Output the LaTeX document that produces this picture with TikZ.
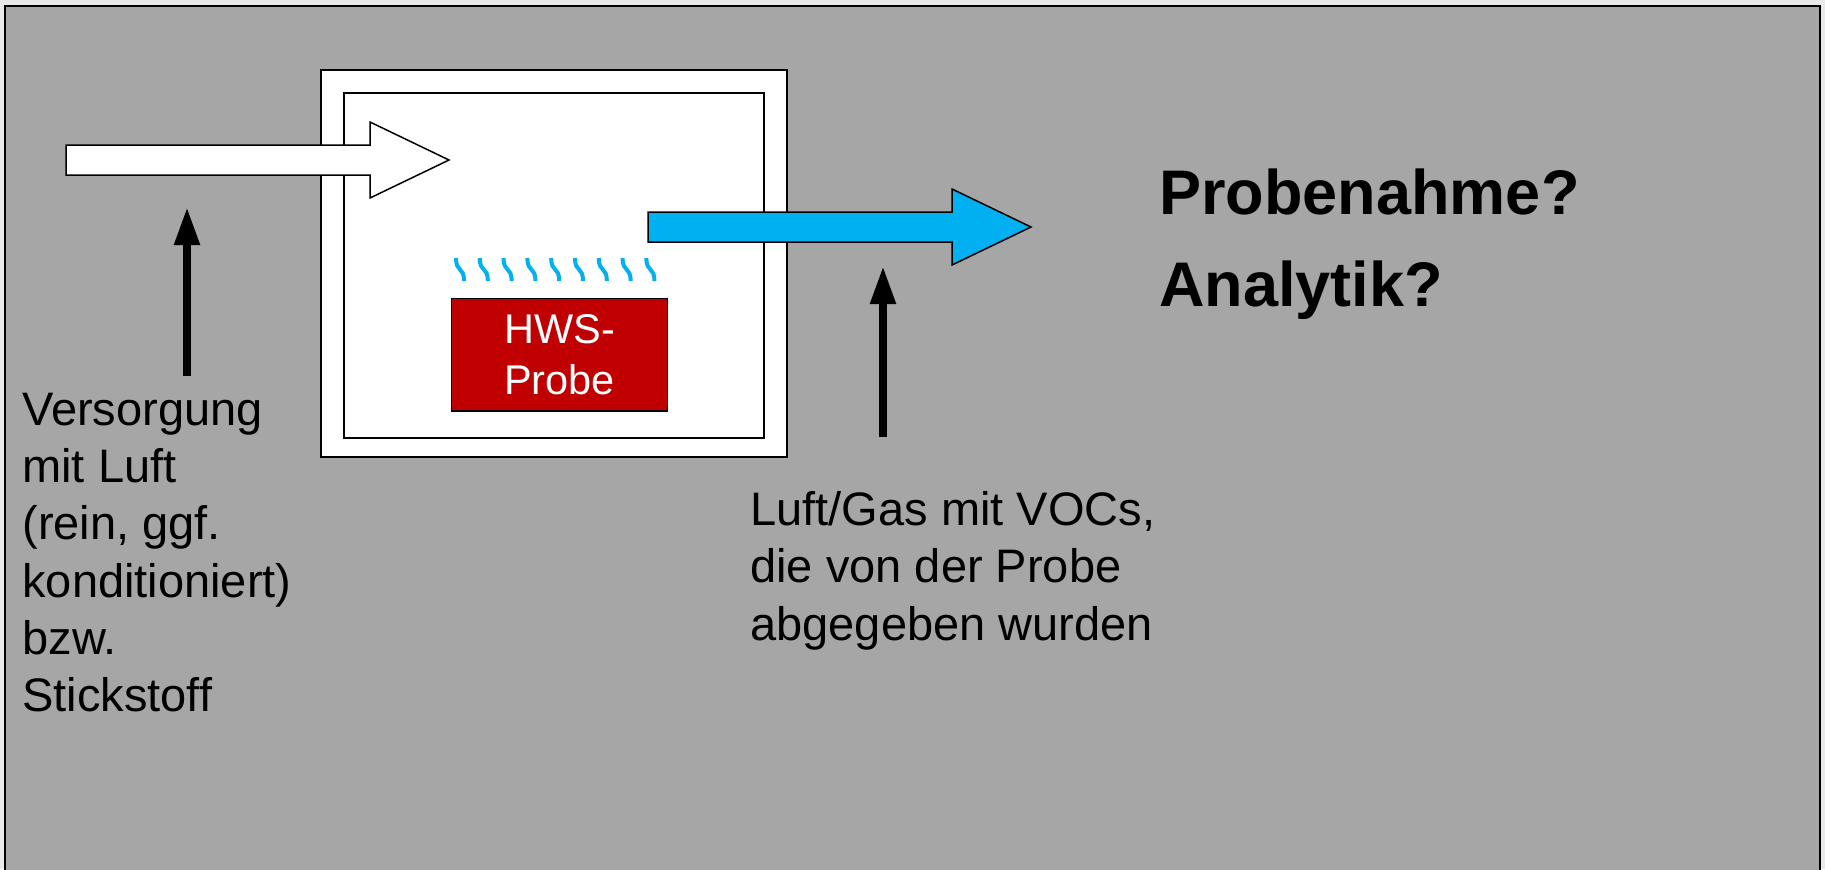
\documentclass[tikz,border=0pt]{standalone}
\usepackage{fontspec}
\setmainfont{Liberation Sans}
\usetikzlibrary{arrows.meta}
\definecolor{pagegray}{HTML}{E9E9EB}
\definecolor{framegray}{HTML}{A6A6A6}
\definecolor{vocblue}{HTML}{00B0F0}
\definecolor{probered}{HTML}{C00000}

\begin{document}
\begin{tikzpicture}[x=0.5pt,y=-0.5pt,
  txt/.style={anchor=base west,inner sep=0pt,align=left,font=\fontsize{23.5}{28.6}\selectfont},
  pointer/.style={line width=4pt,-{Triangle[length=19pt,width=12pt]}},
  flow/.style={draw=black,line width=0.75pt,line join=miter}]
\clip (0,0) rectangle (1825,869);
\fill[pagegray] (0,0) rectangle (1825,869);
\draw[line width=1.4pt,fill=framegray] (5,6) rectangle (1820,900);
\draw[line width=1pt,fill=white] (321,70) rectangle (787,457);
\draw[line width=1pt] (344,93) rectangle (764,438);
\node[draw,line width=0.75pt,fill=probered,text=white,align=center,
  minimum width=107.8pt,minimum height=56.4pt,inner sep=0pt,
  font=\fontsize{20.75}{25.85}\selectfont] (probe) at (559.5,354.7) {HWS-\\Probe};
\foreach \i in {0,...,8}
  \draw[vocblue,line width=2pt] ({456+23.8*\i},258) .. controls ({456+23.8*\i},273) and ({464+23.8*\i},266) .. ({464+23.8*\i},281);
\filldraw[flow,fill=white] (66,145) -- (370,145) -- (370,122) -- (449,160) -- (370,198) -- (370,175) -- (66,175) -- cycle;
\filldraw[flow,fill=vocblue] (648,212) -- (952,212) -- (952,189) -- (1031,227) -- (952,265) -- (952,242) -- (648,242) -- cycle;
\node[txt] (supply) at (22,711.5) {Versorgung\\mit Luft\\(rein, ggf.\\konditioniert)\\bzw.\\Stickstoff};
\node[txt] (exhaust) at (750,640) {Luft/Gas mit VOCs,\\die von der Probe\\abgegeben wurden};
\node[txt,font=\bfseries\fontsize{31.5}{46.2}\selectfont] (question) at (1159,306.5) {Probenahme?\\Analytik?};
\coordinate (inFoot) at (187,376);
\coordinate (inHead) at (187,207);
\coordinate (outFoot) at (883,437);
\coordinate (outHead) at (883,266);
\draw[pointer] (inFoot) -- (inHead);
\draw[pointer] (outFoot) -- (outHead);
\end{tikzpicture}
\end{document}
